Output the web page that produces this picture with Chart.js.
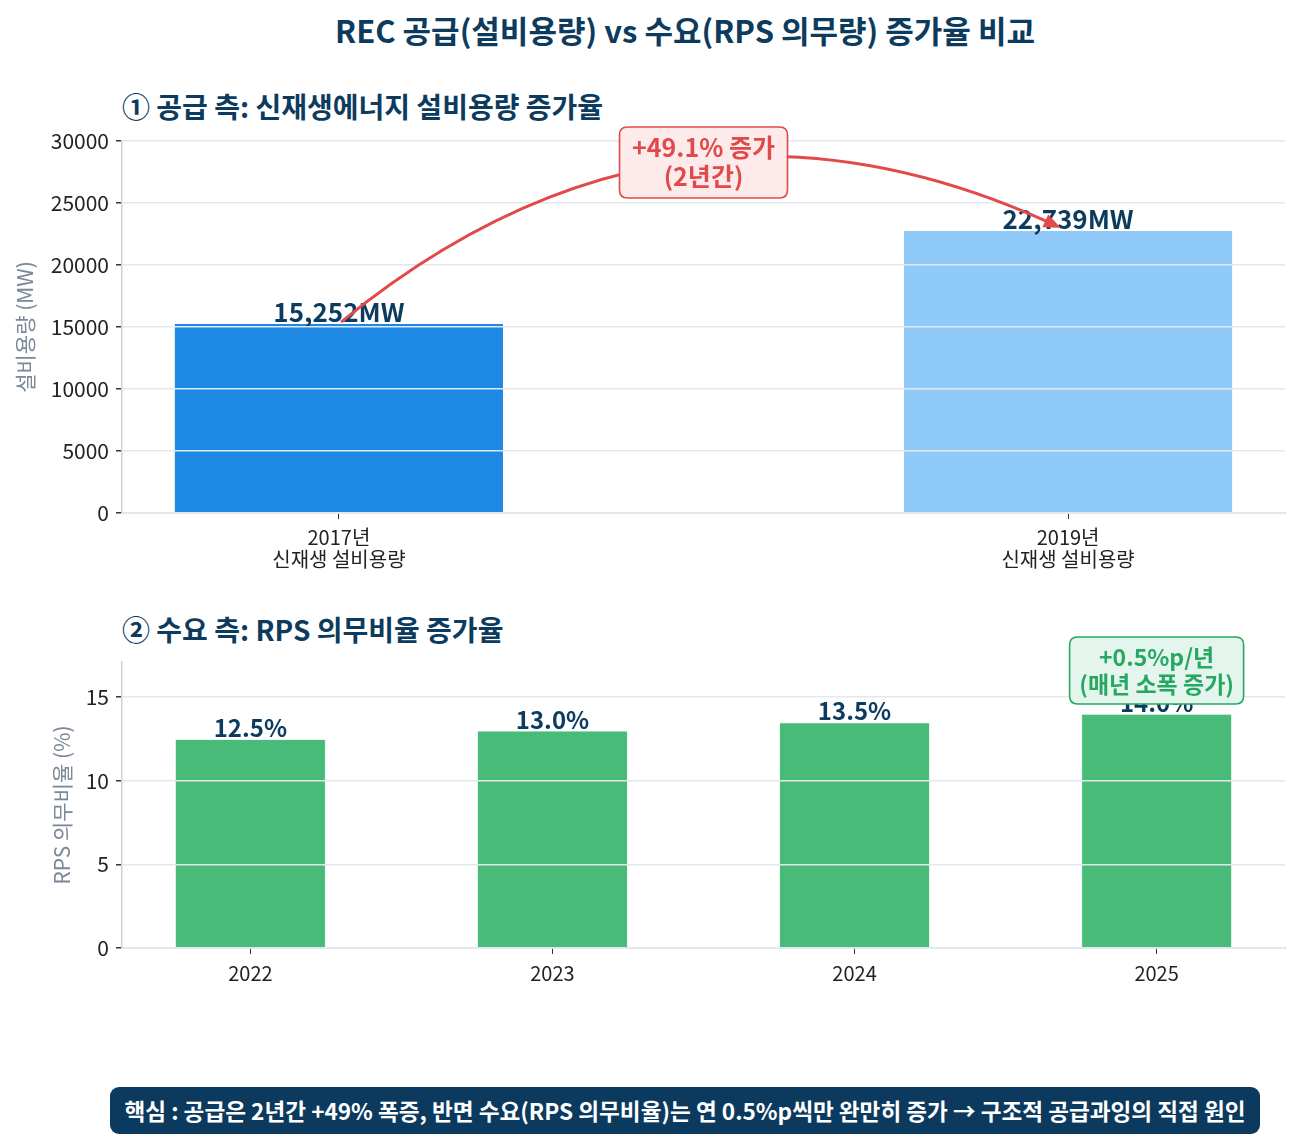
<!DOCTYPE html>
<html>
<head>
<meta charset="utf-8">
<script src="https://cdn.jsdelivr.net/npm/chart.js@4.4.1/dist/chart.umd.min.js"></script>
<style>
  body { margin: 0; background: #fff; font-family: "Noto Sans CJK KR", "Noto Sans", sans-serif; }
  #page { position: relative; width: 1300px; height: 1137px; overflow: hidden; }
  .title { position: absolute; left: 0; width: 1370px; text-align: center; top: 14px; line-height: 1; font-size: 31px; font-weight: bold; color: #0d3b5e; }
  .sub { position: absolute; left: 122px; line-height: 1; font-size: 28px; font-weight: bold; color: #0d3b5e; }
  .box { position: absolute; }
  #footer { position: absolute; left: 110px; top: 1087px; width: 1150px; height: 47px; background: #0b3a5e; border-radius: 9px;
    color: #fff; font-size: 22.6px; font-weight: bold; text-align: center; line-height: 47px; white-space: nowrap; }
</style>
</head>
<body>
<div id="page">
  <div class="title">REC 공급(설비용량) vs 수요(RPS 의무량) 증가율 비교</div>
  <div class="sub" style="top:92px">① 공급 측: 신재생에너지 설비용량 증가율</div>
  <div class="sub" style="top:615px">② 수요 측: RPS 의무비율 증가율</div>
  <div class="box" style="left:0;top:100px;width:1300px;height:485px"><canvas id="supplyChart"></canvas></div>
  <div class="box" style="left:0;top:600px;width:1300px;height:390px"><canvas id="demandChart"></canvas></div>
  <div id="footer">핵심 : 공급은 2년간 +49% 폭증, 반면 수요(RPS 의무비율)는 연 0.5%p씩만 완만히 증가 → 구조적 공급과잉의 직접 원인</div>
</div>
<script>
'use strict';
// data
var supplyLabels = [['2017년', '신재생 설비용량'], ['2019년', '신재생 설비용량']];
var supplyValues = [15252, 22739];
var supplyText = ['15,252MW', '22,739MW'];
var demandLabels = ['2022', '2023', '2024', '2025'];
var demandValues = [12.5, 13.0, 13.5, 14.0];
var demandText = ['12.5%', '13.0%', '13.5%', '14.0%'];

var navy = '#0d3b5e';
var fontFam = '"Noto Sans CJK KR", "Noto Sans", sans-serif';

function toPoints(values) {
  var pts = [];
  for (var i = 0; i < values.length; i++) {
    pts.push({ x: i, y: values[i] });
  }
  return pts;
}

function roundBox(ctx, x, y, w, h, r) {
  ctx.beginPath();
  ctx.moveTo(x + r, y);
  ctx.lineTo(x + w - r, y);
  ctx.quadraticCurveTo(x + w, y, x + w, y + r);
  ctx.lineTo(x + w, y + h - r);
  ctx.quadraticCurveTo(x + w, y + h, x + w - r, y + h);
  ctx.lineTo(x + r, y + h);
  ctx.quadraticCurveTo(x, y + h, x, y + h - r);
  ctx.lineTo(x, y + r);
  ctx.quadraticCurveTo(x, y, x + r, y);
  ctx.closePath();
}

// writes the value text right above every bar
var valueLabels = {
  id: 'valueLabels',
  afterDatasetsDraw: function (chart, args, opts) {
    var ctx = chart.ctx;
    var bars = chart.getDatasetMeta(0).data;
    ctx.save();
    ctx.font = '600 ' + opts.size + 'px ' + fontFam;
    ctx.fillStyle = navy;
    ctx.textAlign = 'center';
    ctx.textBaseline = 'alphabetic';
    for (var i = 0; i < bars.length; i++) {
      ctx.fillText(opts.texts[i], bars[i].x, bars[i].y - 2);
    }
    ctx.restore();
  }
};

// annotation box (and optional curved arrow)
var callout = {
  id: 'callout',
  afterDraw: function (chart, args, opts) {
    var ctx = chart.ctx;
    var xs = chart.scales.x, ys = chart.scales.y;
    ctx.save();
    if (opts.arrow) {
      var x0 = xs.getPixelForValue(opts.arrow[0]), y0 = ys.getPixelForValue(opts.arrow[1]);
      var x1 = xs.getPixelForValue(opts.arrow[2]), y1 = ys.getPixelForValue(opts.arrow[3]);
      var mx = (x0 + x1) / 2, my = (y0 + y1) / 2;
      var dx = x1 - x0, dy = y1 - y0;
      var cx = mx + opts.rad * dy, cy = my - opts.rad * dx;
      var ang = Math.atan2(y1 - cy, x1 - cx);
      var hl = 17, hw = 7;
      // line stops at the head's base
      var ex = x1 - hl * 0.8 * Math.cos(ang), ey = y1 - hl * 0.8 * Math.sin(ang);
      ctx.strokeStyle = opts.color;
      ctx.lineWidth = 3;
      ctx.beginPath();
      ctx.moveTo(x0, y0);
      ctx.quadraticCurveTo(cx, cy, ex, ey);
      ctx.stroke();
      ctx.fillStyle = opts.color;
      ctx.beginPath();
      ctx.moveTo(x1, y1);
      ctx.lineTo(x1 - hl * Math.cos(ang) + hw * Math.sin(ang), y1 - hl * Math.sin(ang) - hw * Math.cos(ang));
      ctx.lineTo(x1 - hl * Math.cos(ang) - hw * Math.sin(ang), y1 - hl * Math.sin(ang) + hw * Math.cos(ang));
      ctx.closePath();
      ctx.fill();
    }
    var bx = xs.getPixelForValue(opts.at[0]), by = ys.getPixelForValue(opts.at[1]);
    var w = opts.w, h = opts.h;
    roundBox(ctx, bx - w / 2, by - h / 2, w, h, 8);
    ctx.fillStyle = opts.bg;
    ctx.fill();
    ctx.lineWidth = 1.6;
    ctx.strokeStyle = opts.color;
    ctx.stroke();
    ctx.fillStyle = opts.color;
    ctx.font = '600 ' + opts.size + 'px ' + fontFam;
    ctx.textAlign = 'center';
    ctx.textBaseline = 'middle';
    ctx.fillText(opts.lines[0], bx, by - opts.gap);
    ctx.fillText(opts.lines[1], bx, by + opts.gap);
    ctx.restore();
  }
};

function baseOptions(cfg) {
  return {
    responsive: true,
    maintainAspectRatio: false,
    animation: false,
    layout: { padding: { top: cfg.padTop, right: 15, left: 0, bottom: 0 } },
    plugins: {
      legend: { display: false },
      tooltip: { enabled: false },
      valueLabels: { texts: cfg.texts, size: cfg.valueSize },
      callout: cfg.callout
    },
    scales: {
      x: {
        type: 'linear',
        offset: false,
        min: cfg.xmin,
        max: cfg.xmax,
        afterBuildTicks: function (scale) {
          var t = [];
          for (var i = 0; i < cfg.labels.length; i++) t.push({ value: i });
          scale.ticks = t;
        },
        afterFit: function (scale) { scale.height = cfg.xHeight; },
        ticks: {
          autoSkip: false,
          maxRotation: 0,
          color: '#222',
          font: { family: fontFam, size: 20, lineHeight: 1.12 },
          padding: cfg.xPad,
          callback: function (v) { return cfg.labels[v]; }
        },
        grid: { offset: false, drawOnChartArea: false, drawTicks: true, tickLength: 6, tickColor: '#333' },
        border: { color: '#ccd3e0', width: 1.5 }
      },
      y: {
        min: 0,
        max: cfg.ymax,
        afterBuildTicks: function (scale) {
          var t = [];
          for (var v = 0; v <= cfg.ymax; v += cfg.step) t.push({ value: v });
          scale.ticks = t;
        },
        afterFit: function (scale) { scale.width = 122; },
        ticks: {
          color: '#222',
          font: { family: fontFam, size: 21 },
          padding: 7,
          callback: function (v) { return String(v); }
        },
        grid: { color: '#e3e7ee', lineWidth: 1.5, z: 1, tickLength: 6, tickColor: '#333' },
        border: { color: '#ccd3e0', width: 1.5, z: 1 },
        title: {
          display: true,
          text: cfg.yTitle,
          color: '#7a8899',
          font: { family: fontFam, size: 21 },
          padding: { top: cfg.titlePad, bottom: 0 }
        }
      }
    }
  };
}

var supplyOpts = baseOptions({
  padTop: 41, xmin: -0.2975, xmax: 1.2975, ymax: 30000, step: 5000, xHeight: 72, xPad: 7,
  labels: supplyLabels, texts: supplyText, valueSize: 26, yTitle: '설비용량 (MW)', titlePad: 12,
  callout: {
    arrow: [0.003, 15400, 0.99, 23000], rad: 0.31,
    at: [0.5, 28270], w: 168, h: 71, size: 25, gap: 14.5,
    color: '#e04a4a', bg: '#fdeaea', lines: ['+49.1% 증가', '(2년간)']
  }
});

new Chart(document.getElementById('supplyChart'), {
  type: 'bar',
  data: {
    datasets: [{
      data: toPoints(supplyValues),
      backgroundColor: ['#1e88e5', '#90caf9'],
      borderWidth: 0,
      barPercentage: 0.45,
      categoryPercentage: 1
    }]
  },
  options: supplyOpts,
  plugins: [valueLabels, callout]
});

var demandOpts = baseOptions({
  padTop: 62, xmin: -0.425, xmax: 3.425, ymax: 17.1, step: 5, xHeight: 42, xPad: 8,
  labels: demandLabels, texts: demandText, valueSize: 24, yTitle: 'RPS 의무비율 (%)', titlePad: 49,
  callout: {
    at: [3, 16.59], w: 174, h: 67, size: 23, gap: 13.5,
    color: '#27a862', bg: '#e3f5ec', lines: ['+0.5%p/년', '(매년 소폭 증가)']
  }
});

new Chart(document.getElementById('demandChart'), {
  type: 'bar',
  data: {
    datasets: [{
      data: toPoints(demandValues),
      backgroundColor: '#48bb78',
      borderColor: '#eafaf0',
      borderWidth: 1,
      barPercentage: 0.5,
      categoryPercentage: 1
    }]
  },
  options: demandOpts,
  plugins: [valueLabels, callout]
});
</script>
</body>
</html>
